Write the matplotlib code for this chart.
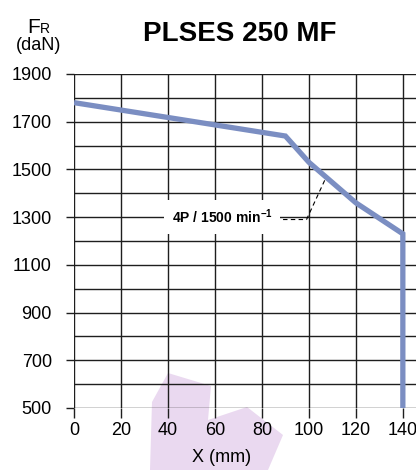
import numpy as np
import matplotlib
matplotlib.use("Agg")
from matplotlib import pyplot as plt
from matplotlib.patches import Polygon

plt.rcParams['font.family'] = ['Liberation Sans', 'DejaVu Sans']
plt.rcParams['mathtext.fontset'] = 'custom'
plt.rcParams['mathtext.rm'] = 'Liberation Sans'
plt.rcParams['mathtext.bf'] = 'Liberation Sans:bold'

# courbe FR (daN) en fonction de X (mm)
x_mm = [0, 90, 100, 120, 140, 140]
fr_dan = [1780, 1640, 1530, 1360, 1230, 500]

x_ticks = [0, 20, 40, 60, 80, 100, 120, 140]
y_major = [500, 700, 900, 1100, 1300, 1500, 1700, 1900]
y_minor = [600, 800, 1000, 1200, 1400, 1600, 1800]

title = "PLSES 250 MF"
label_txt = r"4P / 1500 min$^{\mathbf{-1}}$"
label_pos = (63, 1300)
leader_x = [89, 99, 107]
leader_y = [1290, 1290, 1460]

W, H = 416, 470
fig = plt.figure(figsize=(W / 100, H / 100), dpi=100)
ax = fig.add_axes([74 / W, 1 - 408 / H, 1 - 74 / W, (408 - 74) / H])
ax.patch.set_alpha(0)
ax.set_zorder(2)

# filigrane (logo) en fond
wm = [(150, 470), (152, 402), (168, 373), (211, 386), (208, 420),
      (247, 407), (283, 435), (268, 470)]
fig.patches.append(Polygon([(a / W, 1 - b / H) for a, b in wm], closed=True,
                           transform=fig.transFigure, fc='#ead9f0', ec='none',
                           zorder=-5))

gc = '#1e1e1e'
for v in x_ticks:
    ax.axvline(v, color=gc, lw=1.0, zorder=1)
for v in y_major + y_minor:
    ax.axhline(v, color=gc, lw=1.0, zorder=1)

ax.plot(x_mm, fr_dan, color='#7b8ec2', lw=3.8, solid_joinstyle='miter',
        solid_capstyle='butt', zorder=3)

ax.plot(leader_x, leader_y, color='black', lw=0.8, ls=(0, (4, 3)), zorder=4)
ax.text(label_pos[0], label_pos[1], label_txt, fontsize=10, fontweight='bold',
        ha='center', va='center', zorder=5,
        bbox=dict(boxstyle='square,pad=0.55', fc='white', ec='none'))

ax.set_xlim(0, 145.6)
ax.set_ylim(500, 1900)
for s in ax.spines.values():
    s.set_visible(False)
ax.set_xticks(x_ticks)
ax.set_yticks(y_major)
ax.tick_params(axis='y', length=6, width=1, color=gc, pad=10, labelsize=13)
ax.tick_params(axis='x', length=7, width=1, color=gc, pad=3, labelsize=13)

fig.text(240 / W, 1 - 34 / H, title, fontsize=20, fontweight='bold',
         ha='center', va='center')
fig.text(27 / W, 1 - 33 / H, "F", fontsize=15, ha='left', va='baseline')
fig.text(40 / W, 1 - 33 / H, "R", fontsize=10, ha='left', va='baseline')
fig.text(39 / W, 1 - 45 / H, "(daN)", fontsize=13, ha='center', va='center')
fig.text(222 / W, 1 - 458 / H, "X (mm)", fontsize=13, ha='center', va='center')

fig.savefig("out.png", dpi=100)
